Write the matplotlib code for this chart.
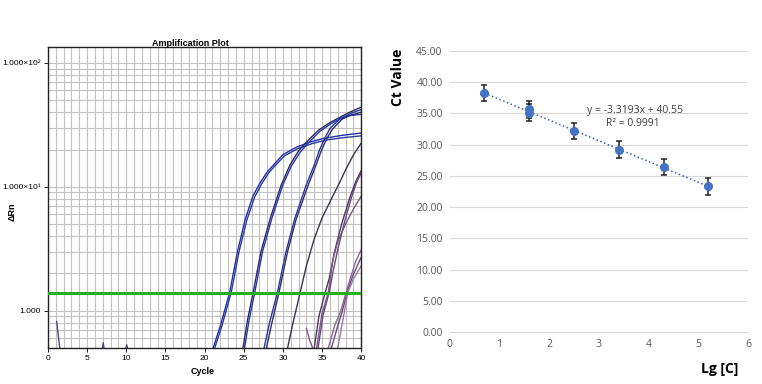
import numpy as np
import matplotlib
matplotlib.use("Agg")
import matplotlib.pyplot as plt
from matplotlib.ticker import MultipleLocator, FixedLocator, NullFormatter

plt.rcParams['font.family'] = ['Liberation Sans', 'DejaVu Sans']

# ---- amplification curves (cycle, delta Rn) ----
curves = [
    # group 1 (Ct ~23.3)
    ([21.1, 22.0, 23.2, 24.2, 25.2, 26.2, 27.1, 28.0, 28.8, 30.0, 31.8, 33.5, 35.2, 37.5, 40.0],
     [0.5, 0.75, 1.4, 3.0, 5.5, 8.5, 10.8, 13.2, 15.0, 18.2, 21.0, 23.0, 24.6, 26.0, 27.2], '#2231a8'),
    ([21.3, 22.2, 23.4, 24.4, 25.4, 26.4, 27.3, 28.2, 29.0, 30.2, 32.0, 33.7, 35.4, 37.6, 40.0],
     [0.5, 0.75, 1.4, 3.0, 5.4, 8.3, 10.6, 13.0, 14.8, 17.8, 20.5, 22.3, 23.8, 24.9, 25.8], '#2a3a9a'),
    # group 2 (Ct ~26.3)
    ([24.9, 25.5, 26.2, 27.2, 28.4, 29.8, 30.9, 32.0, 33.0, 34.5, 36.0, 37.3, 38.7, 40.0],
     [0.5, 0.85, 1.4, 3.0, 5.6, 10.4, 15.0, 19.5, 23.0, 28.5, 33.0, 36.5, 40.5, 44.0], '#2b2b5e'),
    ([25.1, 25.7, 26.4, 27.4, 28.6, 30.0, 31.1, 32.2, 33.2, 34.7, 36.2, 37.5, 38.8, 40.0],
     [0.5, 0.85, 1.4, 3.0, 5.6, 10.4, 14.8, 19.0, 22.5, 28.0, 32.5, 36.0, 39.5, 42.0], '#2436b0'),
    # group 3 (Ct ~29.2)
    ([27.6, 28.3, 29.3, 30.4, 31.5, 33.0, 34.0, 34.7, 35.4, 36.0, 37.3, 38.5, 40.0],
     [0.5, 0.8, 1.4, 3.0, 5.5, 10.4, 15.0, 20.0, 25.0, 29.5, 35.5, 37.5, 38.5], '#2436b0'),
    ([27.9, 28.6, 29.5, 30.6, 31.7, 33.2, 34.2, 34.9, 35.6, 36.3, 37.5, 38.7, 40.0],
     [0.5, 0.8, 1.4, 3.0, 5.5, 10.2, 14.8, 19.5, 24.5, 29.0, 35.0, 38.0, 40.0], '#30305a'),
    # group 4 (Ct ~32.2)
    ([30.6, 31.3, 32.2, 33.0, 34.0, 35.0, 36.2, 37.3, 38.2, 39.1, 40.0],
     [0.5, 0.8, 1.4, 2.3, 3.8, 5.6, 8.0, 11.0, 14.5, 18.5, 22.5], '#3a3456'),
    # group 5 (Ct ~35.5)
    ([34.0, 34.6, 35.4, 35.9, 36.6, 37.5, 38.5, 39.3, 40.0],
     [0.5, 0.9, 1.4, 1.8, 3.0, 5.0, 8.0, 11.0, 13.5], '#4a3660'),
    ([34.3, 35.0, 35.8, 36.4, 37.0, 38.0, 39.0, 40.0],
     [0.5, 0.95, 1.4, 2.6, 3.6, 5.0, 6.6, 8.4], '#7a5a88'),
    ([34.5, 35.1, 35.9, 36.5, 37.0, 37.8, 38.7, 39.4, 40.0],
     [0.5, 0.9, 1.4, 2.2, 3.1, 5.0, 8.0, 10.8, 13.0], '#6a4a7a'),
    ([33.0, 33.4, 33.8],
     [0.72, 0.58, 0.5], '#7a5a88'),
    # group 6 (Ct ~38.2)
    ([35.8, 36.6, 37.4, 38.0, 38.7, 39.3, 40.0],
     [0.5, 0.75, 1.0, 1.35, 1.9, 2.5, 3.1], '#8a6a96'),
    ([36.2, 37.0, 37.6, 38.2, 38.9, 40.0],
     [0.5, 0.75, 1.0, 1.4, 1.9, 2.7], '#6e4c7e'),
    ([37.0, 37.6, 38.3, 39.0, 40.0],
     [0.5, 0.8, 1.4, 1.8, 2.3], '#9a7aa6'),
    # noise near the start
    ([1.1, 1.5], [0.82, 0.5], '#4a4a7a'),
    ([6.95, 7.05, 7.15], [0.5, 0.55, 0.5], '#4a4a7a'),
    ([9.95, 10.05, 10.15], [0.5, 0.53, 0.5], '#4a4a7a'),
]
threshold = 1.4

# ---- standard curve data ----
lg_c = [0.7, 1.6, 1.6, 2.5, 3.4, 4.3, 5.2]
ct = [38.2, 35.6, 35.1, 32.2, 29.2, 26.4, 23.3]
ct_err = [1.3, 1.3, 1.3, 1.3, 1.3, 1.3, 1.3]
slope = -3.3193
intercept = 40.55
r2 = 0.9991

fig = plt.figure(figsize=(7.62, 3.84), dpi=100)

# ---------------- left: amplification plot ----------------
ax1 = fig.add_axes([0.063, 0.094, 0.411, 0.784])
for xs, ys, col in curves:
    ax1.plot(xs, ys, color=col, lw=1.0, solid_capstyle='round')
ax1.axhline(threshold, color='#22b022', lw=2.2, zorder=5)
ax1.set_yscale('log')
ax1.set_xlim(0, 40)
ax1.set_ylim(0.5, 135)
ax1.xaxis.set_major_locator(MultipleLocator(5))
ax1.xaxis.set_minor_locator(MultipleLocator(1))
ax1.yaxis.set_major_locator(FixedLocator([1, 10, 100]))
ax1.yaxis.set_minor_locator(FixedLocator(
    [m * 10.0 ** e for e in (-1, 0, 1, 2) for m in range(2, 10)]))
ax1.yaxis.set_minor_formatter(NullFormatter())
ax1.set_yticklabels(['1.000', '1.000×10¹', '1.000×10²'])
ax1.grid(True, which='both', color='#c2c2c2', lw=0.8)
ax1.set_axisbelow(True)
ax1.tick_params(axis='both', which='major', labelsize=6, length=3, width=0.6, pad=2)
ax1.tick_params(axis='both', which='minor', length=0)
for s in ax1.spines.values():
    s.set_color('#222222')
    s.set_linewidth(1.0)
fig.text(190 / 762, 1 - 43 / 384, 'Amplification Plot', ha='center', va='center',
         fontsize=6.5, fontweight='bold')
fig.text(203 / 762, 1 - 372 / 384, 'Cycle', ha='center', va='center',
         fontsize=6.5, fontweight='bold')
fig.text(12 / 762, 1 - 212 / 384, 'ΔRn', ha='center', va='center',
         fontsize=6.5, fontweight='bold', rotation=90)

# ---------------- right: standard curve ----------------
ax2 = fig.add_axes([0.590, 0.135, 0.392, 0.733])
ax2.set_xlim(0, 6)
ax2.set_ylim(0, 45)
fit_x = np.array([lg_c[0], lg_c[-1]])
ax2.plot(fit_x, slope * fit_x + intercept, color='#3a5fb0', lw=1.1, ls=':', zorder=2)
ax2.errorbar(lg_c, ct, yerr=ct_err, fmt='o', color='#4472C4', ms=5.5,
             ecolor='#222222', elinewidth=1.1, capsize=2.2, capthick=1.1, zorder=3)
ax2.set_xticks(range(0, 7))
ax2.set_yticks(np.arange(0, 46, 5))
ax2.set_yticklabels(['%.2f' % v for v in np.arange(0, 46, 5)])
ax2.grid(True, axis='y', color='#d9d9d9', lw=0.8)
ax2.set_axisbelow(True)
for side in ('top', 'right', 'left'):
    ax2.spines[side].set_visible(False)
ax2.spines['bottom'].set_color('#d9d9d9')
ax2.tick_params(axis='both', length=0, labelsize=7.5, labelcolor='#595959', pad=5)
for lab in ax2.get_xticklabels() + ax2.get_yticklabels():
    lab.set_family(['Open Sans', 'DejaVu Sans'])
fig.text(635 / 762, 1 - 110 / 384, 'y = -3.3193x + 40.55', ha='center', va='center',
         fontsize=7.5, color='#404040', family=['Open Sans', 'DejaVu Sans'])
fig.text(633 / 762, 1 - 124 / 384, 'R² = 0.9991', ha='center', va='center',
         fontsize=7.5, color='#404040', family=['Open Sans', 'DejaVu Sans'])
fig.text(398 / 762, 1 - 77 / 384, 'Ct Value', ha='center', va='center', rotation=90,
         fontsize=10, fontweight='bold', family=['Open Sans', 'DejaVu Sans'])
fig.text(720 / 762, 1 - 369 / 384, 'Lg [C]', ha='center', va='center',
         fontsize=10, fontweight='bold', family=['Open Sans', 'DejaVu Sans'])

fig.savefig('out.png', dpi=100)
